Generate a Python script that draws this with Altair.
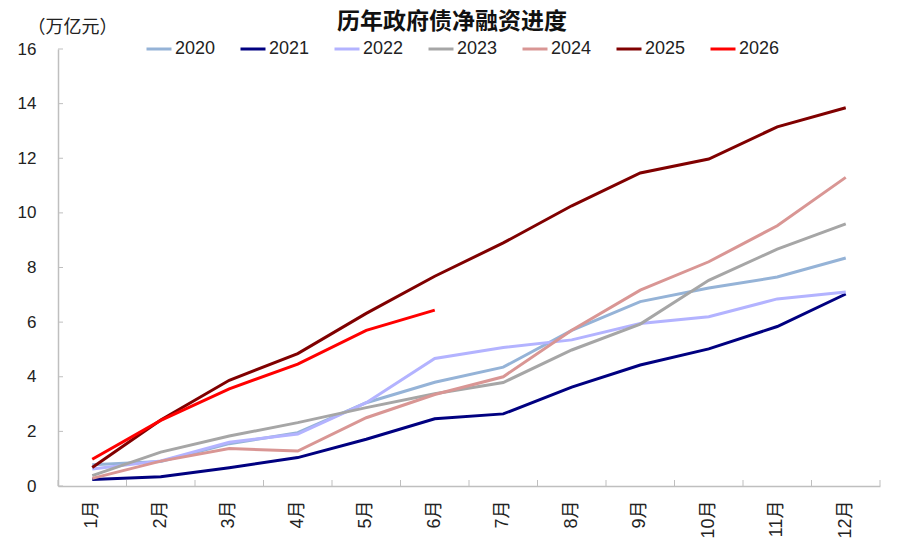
import altair as alt
import pandas as pd

months = ["1月", "2月", "3月", "4月", "5月", "6月", "7月", "8月", "9月", "10月", "11月", "12月"]
years = ["2020", "2021", "2022", "2023", "2024", "2025", "2026"]

v2020 = [0.78, 0.90, 1.55, 1.95, 3.05, 3.80, 4.35, 5.70, 6.75, 7.25, 7.65, 8.35]
v2021 = [0.24, 0.34, 0.67, 1.04, 1.71, 2.46, 2.64, 3.62, 4.43, 5.02, 5.84, 7.03]
v2022 = [0.62, 0.92, 1.60, 1.90, 3.05, 4.67, 5.07, 5.35, 5.95, 6.20, 6.85, 7.10]
v2023 = [0.38, 1.24, 1.83, 2.32, 2.87, 3.38, 3.79, 4.98, 5.93, 7.53, 8.67, 9.60]
v2024 = [0.28, 0.91, 1.37, 1.28, 2.50, 3.35, 4.00, 5.70, 7.17, 8.21, 9.53, 11.30]
v2025 = [0.68, 2.42, 3.87, 4.85, 6.32, 7.68, 8.90, 10.26, 11.46, 11.97, 13.15, 13.85]
v2026 = [0.98, 2.40, 3.56, 4.46, 5.70, 6.44]

colors = ["#95B3D7", "#000080", "#B3B3FF", "#A6A6A6", "#D99694", "#800000", "#FF0000"]

series = [v2020, v2021, v2022, v2023, v2024, v2025, v2026]
rows = []
for yr, vals in zip(years, series):
    for m, v in zip(months, vals):
        rows.append({"月份": m, "年份": yr, "值": v})
df = pd.DataFrame(rows)

y_ticks = [0, 2, 4, 6, 8, 10, 12, 14, 16]
df_yt = pd.DataFrame({"v": y_ticks})
df_xt = pd.DataFrame({"月份": months})
df_xend = pd.DataFrame({"月份": [months[-1]]})

W, H = 822, 437
FONT = "Liberation Sans, Noto Sans CJK SC, sans-serif"
AX = "#BFBFBF"

xscale = alt.Scale(type="band", domain=months, paddingInner=0, paddingOuter=0)
yscale = alt.Scale(domain=[0, 16], nice=False)

lines = alt.Chart(df).mark_line(strokeWidth=3).encode(
    x=alt.X("月份:N", sort=months, scale=xscale,
            axis=alt.Axis(title=None, labelAngle=270, labelFontSize=18, labelColor="#222",
                          labelFont=FONT, ticks=False, labelPadding=14,
                          domainColor=AX, domainWidth=1.5)),
    y=alt.Y("值:Q", scale=yscale,
            axis=alt.Axis(values=y_ticks, grid=False, ticks=False, labelPadding=22,
                          labelFontSize=17, labelColor="#222", labelFont=FONT,
                          domainColor=AX, domainWidth=1.5,
                          title="（万亿元）", titleAngle=0, titleFontSize=18,
                          titleFontWeight="normal", titleFont="Noto Sans CJK SC",
                          titleColor="#222",
                          titleAlign="left", titleBaseline="middle",
                          titleX=-31, titleY=-22)),
    color=alt.Color("年份:N", scale=alt.Scale(domain=years, range=colors),
                    legend=alt.Legend(orient="none", legendX=87, legendY=-14,
                                      direction="horizontal", title=None,
                                      symbolType="stroke", symbolSize=625,
                                      symbolStrokeWidth=3, labelFontSize=18,
                                      labelFont=FONT, labelColor="#222",
                                      labelOffset=2, columnPadding=18)),
    detail="年份:N",
)

ytick = alt.Chart(df_yt).mark_rule(color=AX, strokeWidth=1).encode(
    y=alt.Y("v:Q", scale=yscale), x=alt.value(0), x2=alt.value(5)
)
xtick = alt.Chart(df_xt).mark_rule(color=AX, strokeWidth=1).encode(
    x=alt.X("月份:N", sort=months, scale=xscale, bandPosition=0),
    y=alt.value(H - 6), y2=alt.value(H)
)
xtick_end = alt.Chart(df_xend).mark_rule(color=AX, strokeWidth=1).encode(
    x=alt.X("月份:N", sort=months, scale=xscale, bandPosition=1),
    y=alt.value(H - 6), y2=alt.value(H)
)

chart = alt.layer(lines, ytick, xtick, xtick_end).properties(
    width=W, height=H,
    title=alt.TitleParams("历年政府债净融资进度", fontSize=23, fontWeight="bold",
                          font="Noto Sans CJK SC", color="#111", anchor="middle",
                          dx=-17, offset=-16),
    autosize=alt.AutoSizeParams(type="none"),
    padding={"left": 50, "top": 41, "right": 12, "bottom": 56},
).configure_view(stroke=None)

chart.save("out.html", embed_options={"renderer": "svg", "actions": False})
